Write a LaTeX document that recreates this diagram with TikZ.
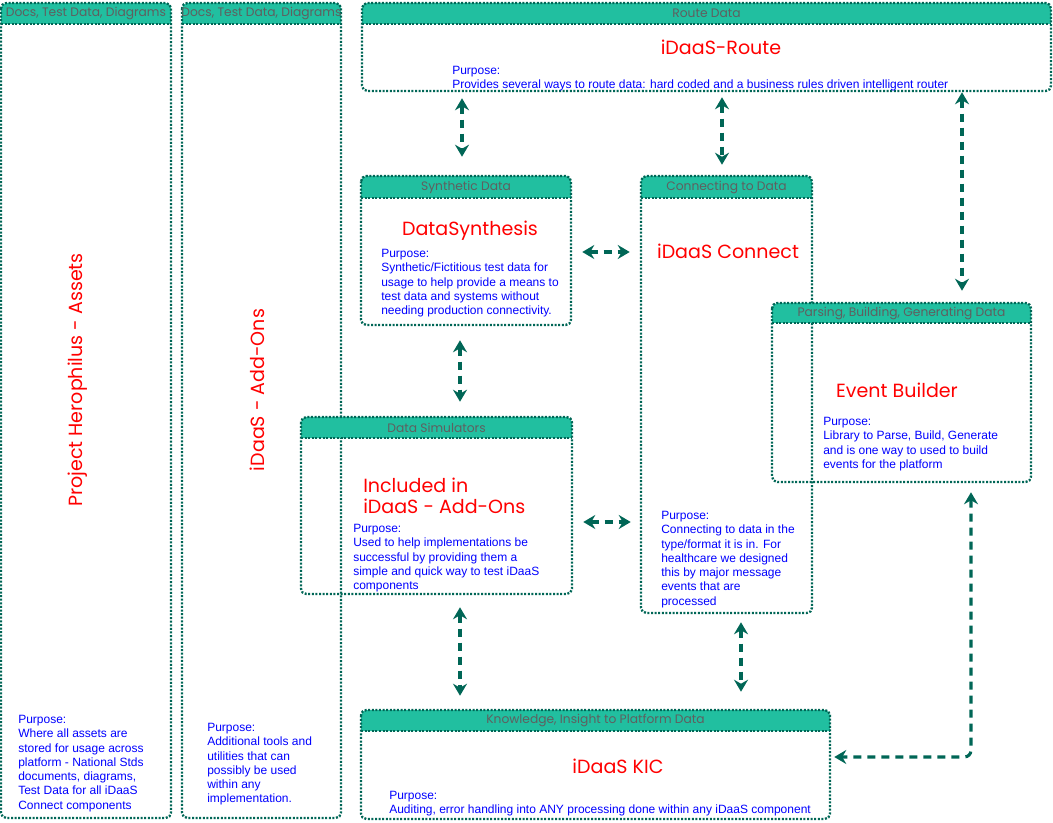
\documentclass[tikz,border=0pt]{standalone}
\usepackage{fontspec}
\setmainfont{Liberation Sans}
\newfontfamily\rfont{Poppins}
\usetikzlibrary{arrows.meta,fit,calc}
\definecolor{edge}{RGB}{0,102,86}
\definecolor{hdrfill}{RGB}{33,191,160}
\definecolor{hdrtxt}{RGB}{95,95,95}
\definecolor{ttl}{RGB}{255,0,0}
\definecolor{purp}{RGB}{0,0,255}
\tikzset{
 dotline/.style={draw=edge, line width=1.75pt, dash pattern=on 1.5pt off 1.2pt},
 hdrtext/.style={font=\rfont\fontsize{9.2}{10}\selectfont, text=hdrtxt, inner sep=0pt},
 ttltext/.style={font=\rfont\fontsize{14.3}{15.75}\selectfont, text=ttl, inner sep=0pt},
 purptext/.style={font=\fontsize{9}{10.7}\selectfont, text=purp, align=left, inner sep=0pt, anchor=north west},
 conn/.style={draw=edge, line width=2.3pt, dash pattern=on 6pt off 4.5pt,
   {Stealth[length=9pt,width=10.5pt,inset=3pt]}-{Stealth[length=9pt,width=10.5pt,inset=3pt]}},
}
\newcommand\swim[7]{%
 \coordinate (#1-nw) at (#2,#3);
 \coordinate (#1-se) at (#4,#5);
 \node[fit=(#1-nw)(#1-se), inner sep=0pt, draw=none] (#1) {};
 \fill[hdrfill] (#2,#3+#6) [rounded corners=4pt] -- (#2,#3) -- (#4,#3) [sharp corners] -- (#4,#3+#6) -- cycle;
 \draw[dotline, rounded corners=4pt] (#2,#3) rectangle (#4,#5);
 \draw[dotline] (#2,#3+#6) -- (#4,#3+#6);
 \node[hdrtext] (#1-h) at ($(#2,#3)!0.5!(#4,#3+#6)$) {#7};
}
\begin{document}
\begin{tikzpicture}[x=0.75pt,y=-0.75pt]
\useasboundingbox (0,0) rectangle (1053,823);
% left columns
\swim{ca}{1}{3}{171}{818}{21}{Docs, Test Data, Diagrams}
\swim{cb}{182}{3}{341}{818}{21}{Docs, Test Data, Diagrams}
\node[ttltext, rotate=90] (cat) at (78,380) {Project Herophilus - Assets};
\node[ttltext, rotate=90] (cbt) at (257,390) {iDaaS - Add-Ons};
\node[purptext] (cap) at (18,715) {Purpose:\\Where all assets are\\stored for usage across\\platform - National Stds\\documents, diagrams,\\Test Data for all iDaaS\\Connect components};
\node[purptext] (cbp) at (207,723) {Purpose:\\Additional tools and\\utilities that can\\possibly be used\\within any\\implementation.};
% route
\swim{route}{362}{3}{1051}{91}{21}{Route Data}
\node[ttltext] (routet) at (721,47) {iDaaS-Route};
\node[purptext] (routep) at (452,66) {Purpose:\\Provides several ways to route data: hard coded and a business rules driven intelligent router};
% data synthesis
\swim{ds}{361}{176}{571}{325}{22}{Synthetic Data}
\node[ttltext] (dst) at (470,231) {DataSynthesis};
\node[purptext] (dsp) at (381,249) {Purpose:\\Synthetic/Fictitious test data for\\usage to help provide a means to\\test data and systems without\\needing production connectivity.};
% connect
\swim{cn}{641}{176}{812}{613}{22}{Connecting to Data}
\node[ttltext] (cnt) at (728,251) {iDaaS Connect};
\node[purptext] (cnp) at (661,511) {Purpose:\\Connecting to data in the\\type/format it is in. For\\healthcare we designed\\this by major message\\events that are\\processed};
% event builder
\swim{eb}{772}{303}{1031}{482}{20}{Parsing, Building, Generating Data}
\node[ttltext] (ebt) at (897,390) {Event Builder};
\node[purptext] (ebp) at (823,417) {Purpose:\\Library to Parse, Build, Generate\\and is one way to used to build\\events for the platform};
% simulators
\swim{sim}{301}{417}{572}{594}{21}{Data Simulators}
\node[ttltext, align=left, anchor=west] (simt) at (363,496) {Included in\\iDaaS - Add-Ons};
\node[purptext] (simp) at (353,524) {Purpose:\\Used to help implementations be\\successful by providing them a\\simple and quick way to test iDaaS\\components};
% KIC
\swim{kic}{361}{710}{830}{819}{21}{Knowledge, Insight to Platform Data}
\node[ttltext] (kict) at (618,766) {iDaaS KIC};
\node[purptext] (kicp) at (389,791) {Purpose:\\Auditing, error handling into ANY processing done within any iDaaS component};
% connectors
\draw[conn, shorten <=5.25pt, shorten >=14.25pt] (route.south -| 462,0) -- (ds.north -| 462,0);
\draw[conn, shorten <=4.5pt, shorten >=8.25pt] (route.south -| 722,0) -- (cn.north -| 722,0);
\draw[conn, shorten <=0.75pt, shorten >=9pt] (route.south -| 962,0) -- (eb.north -| 962,0);
\draw[conn, shorten <=8.25pt, shorten >=8.25pt] (ds.east |- 0,252) -- (cn.west |- 0,252);
\draw[conn, shorten <=11.25pt, shorten >=11.25pt] (ds.south -| 460,0) -- (sim.north -| 460,0);
\draw[conn, shorten <=8.25pt, shorten >=7.5pt] (sim.east |- 0,522) -- (cn.west |- 0,522);
\draw[conn, shorten <=9.75pt, shorten >=10.5pt] (sim.south -| 460,0) -- (kic.north -| 460,0);
\draw[conn, shorten <=6.75pt, shorten >=13.5pt] (cn.south -| 741,0) -- (kic.north -| 741,0);
\draw[conn, rounded corners=5pt, shorten <=7.5pt, shorten >=3pt] (eb.south -| 971,0) |- (kic.east |- 0,757);
\end{tikzpicture}
\end{document}
